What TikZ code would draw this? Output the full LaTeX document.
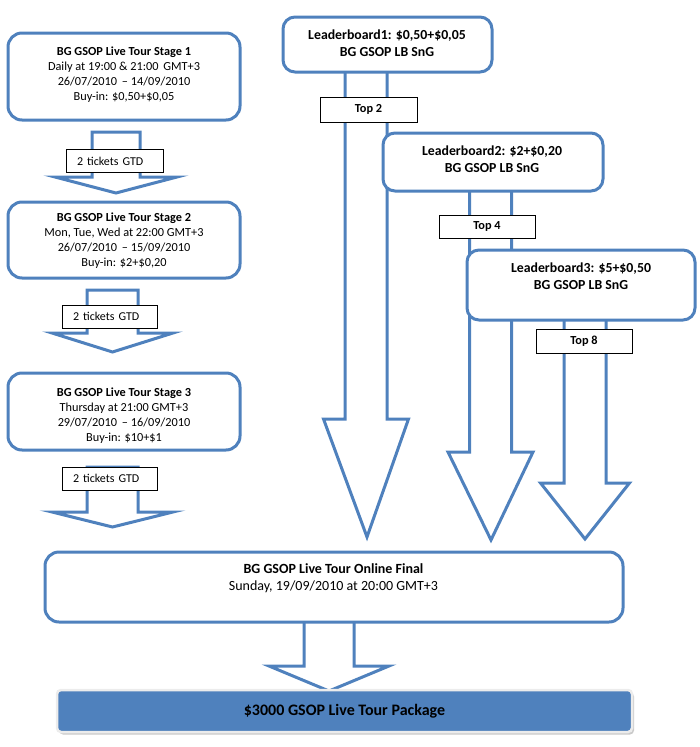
\documentclass[tikz,border=0pt]{standalone}
\usepackage{fontspec}
\setmainfont{Carlito}
\usetikzlibrary{shadows}
\definecolor{obl}{HTML}{4F81BD}
\newcommand\blockarr[7]{%
  \draw[blockarrow] (#1-#2,#3) -- (#1+#2,#3) -- (#1+#2,#4) -- (#1+#5,#4) -- (#6,#7) -- (#1-#5,#4) -- (#1-#2,#4) -- cycle;}
\begin{document}
\begin{tikzpicture}[x=1pt,y=-1pt,
  blockarrow/.style={draw=obl,line width=3pt,fill=white,line join=miter,miter limit=20},
  roundbox/.style={draw=obl,line width=3pt,fill=white,rounded corners=14pt,inner sep=0pt},
  lbbox/.style={draw=obl,line width=3pt,fill=white,rounded corners=12pt,inner sep=0pt},
  tag/.style={draw=black,line width=0.8pt,fill=white,inner sep=0pt,font=\fontsize{12}{14}\selectfont},
  toptag/.style={draw=black,line width=0.8pt,fill=white,inner sep=0pt,font=\bfseries\fontsize{12.3}{14}\selectfont},
  stext/.style={align=center,inner sep=0pt,font=\fontsize{12.3}{15}\selectfont},
  ftext/.style={align=center,inner sep=0pt,font=\fontsize{14}{17}\selectfont},
  lbtext/.style={align=center,inner sep=0pt,font=\bfseries\fontsize{13.8}{17}\selectfont},
  prize/.style={fill=obl,draw=gray!15,line width=2.5pt,rounded corners=4pt,inner sep=0pt,
     drop shadow={shadow xshift=2pt,shadow yshift=-2.5pt,fill=gray!70,opacity=0.6},
     font=\bfseries\fontsize{16}{18}\selectfont}]
\useasboundingbox (0,0) rectangle (700,747);
% arrows
\blockarr{116}{24}{132}{177}{61}{116}{193}
\blockarr{112.5}{25.5}{290}{333}{60.5}{112.5}{352}
\blockarr{112.5}{25.5}{467}{512}{60.5}{112.5}{527}
\blockarr{366}{21}{50}{419}{42.5}{367}{537}
\blockarr{490.5}{21}{170}{452}{42.5}{491}{540}
\blockarr{585}{21}{290}{483}{44.5}{585}{539}
\blockarr{329}{25}{600}{666}{60}{329}{691}
% stage boxes
\node[roundbox,minimum width=232pt,minimum height=87pt] (s1) at (124,76.5) {};
\node[stext] (s1t) at (124,74.5) {\textbf{BG GSOP Live Tour Stage 1}\\Daily at 19:00 \& 21:00\, GMT+3\\26/07/2010\, -- 14/09/2010\\Buy-in: \$0,50+\$0,05};
\node[roundbox,minimum width=232pt,minimum height=76pt] (s2) at (124,240) {};
\node[stext] (s2t) at (124,240.5) {\textbf{BG GSOP Live Tour Stage 2}\\Mon, Tue, Wed at 22:00 GMT+3\\26/07/2010\, -- 15/09/2010\\Buy-in: \$2+\$0,20};
\node[roundbox,minimum width=232pt,minimum height=77pt] (s3) at (124,411.5) {};
\node[stext] (s3t) at (124,415.5) {\textbf{BG GSOP Live Tour Stage 3}\\Thursday at 21:00 GMT+3\\29/07/2010\, -- 16/09/2010\\Buy-in: \$10+\$1};
% leaderboards
\node[lbbox,minimum width=209pt,minimum height=55pt] (lb1) at (387.5,44.5) {};
\node[lbtext] (lb1t) at (387,43.5) {Leaderboard1: \$0,50+\$0,05\\BG GSOP LB SnG};
\node[lbbox,minimum width=220pt,minimum height=58pt] (lb2) at (493,162) {};
\node[lbtext] (lb2t) at (492,159.5) {Leaderboard2: \$2+\$0,20\\BG GSOP LB SnG};
\node[lbbox,minimum width=228pt,minimum height=70pt] (lb3) at (581,285) {};
\node[lbtext] (lb3t) at (581,276.5) {Leaderboard3: \$5+\$0,50\\BG GSOP LB SnG};
% final
\node[roundbox,minimum width=578pt,minimum height=70pt] (fin) at (334,587) {};
\node[ftext] (fint) at (333.5,578.5) {\textbf{BG GSOP Live Tour Online Final}\\Sunday, 19/09/2010 at 20:00 GMT+3};
\node[prize,minimum width=575pt,minimum height=42pt] (pkg) at (344.5,711) {\$3000 GSOP Live Tour Package};
% tags
\node[tag,minimum width=97pt,minimum height=23pt,text width=75pt,align=left,inner xsep=11pt] (t1) at (114.5,161) {2 tickets GTD};
\node[tag,minimum width=95pt,minimum height=23pt,text width=73pt,align=left,inner xsep=11pt] (t2) at (109.5,316.5) {2 tickets GTD};
\node[tag,minimum width=95pt,minimum height=23pt,text width=73pt,align=left,inner xsep=11pt] (t3) at (109.5,478.5) {2 tickets GTD};
\node[toptag,minimum width=97pt,minimum height=25pt] (p2) at (368.5,109.5) {Top 2};
\node[toptag,minimum width=96pt,minimum height=23pt] (p4) at (487,226.5) {Top 4};
\node[toptag,minimum width=96pt,minimum height=24pt] (p8) at (584,341) {Top 8};
\end{tikzpicture}
\end{document}
